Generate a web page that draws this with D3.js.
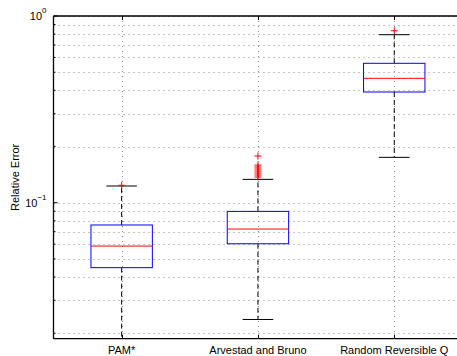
<!DOCTYPE html>
<html>
<head>
<meta charset="utf-8">
<script src="https://cdn.jsdelivr.net/npm/d3@7"></script>
<style>
  body { margin: 0; background: #fff; }
  text { font-family: "Liberation Sans", Arial, sans-serif; }
</style>
</head>
<body>
<svg width="457" height="356"></svg>
<script>
// data
const categories = ["PAM*", "Arvestad and Bruno", "Random Reversible Q"];
const q1 = [0.0449, 0.0603, 0.3917];
const medians = [0.0586, 0.0723, 0.4637];
const q3 = [0.0760, 0.0899, 0.558];
const whiskerLow = [0.015, 0.0237, 0.175];
const whiskerHigh = [0.1229, 0.1334, 0.794];
const outliers = [
    [0.124],
    [0.1373, 0.1407, 0.1442, 0.1478, 0.1515, 0.1553, 0.159, 0.178],
    [0.834]
];
const yMajor = [0.1, 1];

const svg = d3.select("svg");

// plot box
const plotLeft = 53.5, plotTop = 16, plotBottom = 338.7;
const unit = 136.3;

const x = d3.scaleLinear().domain([0.5, 3.5]).range([plotLeft, plotLeft + 3 * unit]);
const y = d3.scaleLog().domain([0.0187, 1]).range([plotBottom, plotTop]);

svg.append("defs").append("clipPath").attr("id", "plotclip")
    .append("rect")
    .attr("x", plotLeft).attr("y", plotTop)
    .attr("width", 457 - plotLeft).attr("height", plotBottom - plotTop);

const plot = svg.append("g").attr("clip-path", "url(#plotclip)");

// minor + major log gridlines
const gridVals = [];
for (let e = -2; e <= 0; e++) {
    for (let m = 1; m <= 9; m++) {
        const v = m * Math.pow(10, e);
        if (v >= y.domain()[0] && v <= 1) gridVals.push(v);
    }
}
plot.selectAll(".hgrid")
    .data(gridVals)
    .enter().append("line")
    .attr("class", "hgrid")
    .attr("x1", plotLeft).attr("x2", 457)
    .attr("y1", d => Math.round(y(d)) + 0.5)
    .attr("y2", d => Math.round(y(d)) + 0.5)
    .style("stroke", "#888")
    .style("stroke-width", 1)
    .style("stroke-dasharray", "1,4");

plot.selectAll(".vgrid")
    .data(categories)
    .enter().append("line")
    .attr("class", "vgrid")
    .attr("x1", (d, i) => Math.round(x(i + 1)) + 0.5)
    .attr("x2", (d, i) => Math.round(x(i + 1)) + 0.5)
    .attr("y1", plotTop).attr("y2", plotBottom)
    .style("stroke", "#888")
    .style("stroke-dasharray", "1,4");

// boxes
const boxHalf = 30.7, capHalf = 15.3;
const groups = plot.selectAll(".box")
    .data(categories)
    .enter().append("g")
    .attr("class", "box");

// whiskers (dashed)
groups.append("line")
    .attr("x1", (d, i) => x(i + 1)).attr("x2", (d, i) => x(i + 1))
    .attr("y1", (d, i) => y(q3[i])).attr("y2", (d, i) => y(whiskerHigh[i]))
    .style("stroke", "#000").style("stroke-width", 1)
    .style("stroke-dasharray", "5,3");
groups.append("line")
    .attr("x1", (d, i) => x(i + 1)).attr("x2", (d, i) => x(i + 1))
    .attr("y1", (d, i) => y(q1[i])).attr("y2", (d, i) => y(whiskerLow[i]))
    .style("stroke", "#000").style("stroke-width", 1)
    .style("stroke-dasharray", "5,3");

// caps
[whiskerHigh, whiskerLow].forEach(w => {
    groups.append("line")
        .attr("x1", (d, i) => x(i + 1) - capHalf).attr("x2", (d, i) => x(i + 1) + capHalf)
        .attr("y1", (d, i) => y(w[i])).attr("y2", (d, i) => y(w[i]))
        .style("stroke", "#000").style("stroke-width", 1);
});

groups.append("rect")
    .attr("x", (d, i) => x(i + 1) - boxHalf)
    .attr("y", (d, i) => y(q3[i]))
    .attr("width", boxHalf * 2)
    .attr("height", (d, i) => y(q1[i]) - y(q3[i]))
    .style("fill", "none")
    .style("stroke", "#0000ff")
    .style("stroke-width", 1);

groups.append("line")
    .attr("x1", (d, i) => x(i + 1) - boxHalf).attr("x2", (d, i) => x(i + 1) + boxHalf)
    .attr("y1", (d, i) => y(medians[i])).attr("y2", (d, i) => y(medians[i]))
    .style("stroke", "#ff0000").style("stroke-width", 1);

// outliers as red plus signs
const outPts = [];
outliers.forEach((arr, i) => arr.forEach(v => outPts.push({ i: i, v: v })));
const plusSize = 3.5;
const plus = plot.selectAll(".out")
    .data(outPts)
    .enter().append("g")
    .attr("class", "out")
    .attr("transform", d => "translate(" + x(d.i + 1) + "," + y(d.v) + ")");
plus.append("line").attr("x1", -plusSize).attr("x2", plusSize)
    .style("stroke", "#ff0000");
plus.append("line").attr("y1", -plusSize).attr("y2", plusSize)
    .style("stroke", "#ff0000");

// axes lines
const axes = svg.append("g");
axes.append("line").attr("x1", plotLeft).attr("x2", 457).attr("y1", plotTop).attr("y2", plotTop)
    .style("stroke", "#000").style("stroke-width", 1.3);
axes.append("line").attr("x1", plotLeft).attr("x2", 457).attr("y1", plotBottom).attr("y2", plotBottom)
    .style("stroke", "#000").style("stroke-width", 1.3);
axes.append("line").attr("x1", plotLeft).attr("x2", plotLeft).attr("y1", plotTop).attr("y2", plotBottom)
    .style("stroke", "#000").style("stroke-width", 1.3);

// inward ticks on x
categories.forEach((c, i) => {
    const xx = Math.round(x(i + 1)) + 0.5;
    axes.append("line").attr("x1", xx).attr("x2", xx).attr("y1", plotBottom).attr("y2", plotBottom - 4)
        .style("stroke", "#000");
    axes.append("line").attr("x1", xx).attr("x2", xx).attr("y1", plotTop).attr("y2", plotTop + 4)
        .style("stroke", "#000");
});
// inward ticks on y
gridVals.forEach(v => {
    const len = yMajor.includes(v) ? 4 : 2;
    axes.append("line").attr("x1", plotLeft).attr("x2", plotLeft + len)
        .attr("y1", y(v)).attr("y2", y(v))
        .style("stroke", "#000");
});

// x tick labels
svg.selectAll(".xlab")
    .data(categories)
    .enter().append("text")
    .attr("class", "xlab")
    .attr("x", (d, i) => x(i + 1))
    .attr("y", plotBottom + 15)
    .attr("text-anchor", "middle")
    .style("font-size", "11px")
    .text(d => d);

// y tick labels 10^e
yMajor.forEach(v => {
    const e = Math.round(Math.log10(v));
    const t = svg.append("text")
        .attr("x", plotLeft - 7)
        .attr("y", y(v) + 4)
        .attr("text-anchor", "end")
        .style("font-size", "11px");
    t.append("tspan").text("10");
    t.append("tspan").attr("dy", -7).style("font-size", "8px")
        .text(e === 0 ? "0" : "\u2212" + (-e));
});

// y axis title
svg.append("text")
    .attr("transform", "translate(19," + ((plotTop + plotBottom) / 2) + ") rotate(-90)")
    .attr("text-anchor", "middle")
    .style("font-size", "11px")
    .text("Relative Error");
</script>
</body>
</html>
